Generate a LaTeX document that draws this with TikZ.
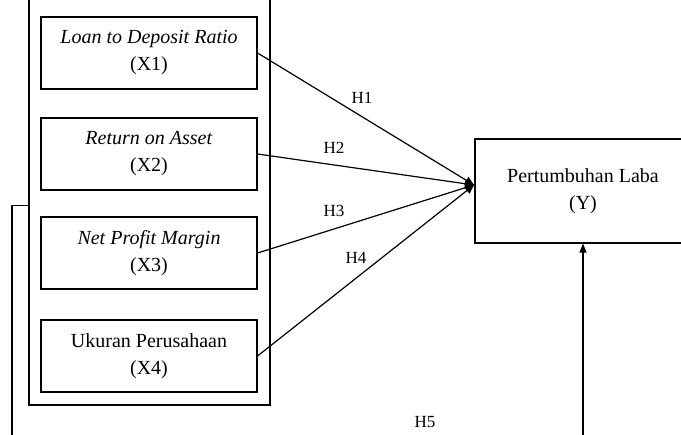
\documentclass[tikz,border=0pt]{standalone}
\usepackage{fontspec}
\setmainfont{Liberation Serif}
\usetikzlibrary{arrows.meta}
\begin{document}
\begin{tikzpicture}[x=1pt,y=-1pt,
    varbox/.style={draw, line width=1.1pt, minimum width=216pt, minimum height=72pt,
        align=center, inner sep=2pt, font=\fontsize{20}{27}\selectfont},
    hlabel/.style={font=\fontsize{17}{19}\selectfont},
    link/.style={line width=1.2pt, -{Triangle[length=9pt,width=8pt]}}]

    % Bidang gambar (681x435)
    \clip (0,0) rectangle (681,435);

    % Kotak luar untuk variabel independen
    \node[draw, line width=1.1pt, minimum width=241pt, minimum height=425pt] (panel) at (149.5,192.5) {};

    % Variabel independen
    \node[varbox] (x1) at (149,53)  {\textit{Loan to Deposit Ratio}\\(X1)};
    \node[varbox] (x2) at (149,154) {\textit{Return on Asset}\\(X2)};
    \node[varbox] (x3) at (149,253) {\textit{Net Profit Margin}\\(X3)};
    \node[varbox] (x4) at (149,356) {Ukuran Perusahaan\\(X4)};

    % Variabel dependen
    \node[varbox, minimum width=216pt, minimum height=104pt] (y) at (583,191) {Pertumbuhan Laba\\(Y)};

    % Titik temu panah
    \coordinate (tip) at (474,185);

    % Hipotesis H1 - H4
    \foreach \i/\lx/\ly in {1/362/98, 2/334/148, 3/334/211, 4/356/258} {
        \draw[link] (x\i.east) -- (tip);
        \node[hlabel] (h\i) at (\lx,\ly) {H\i};
    }

    % Hipotesis H5
    \coordinate (brk) at (12,440);
    \coordinate (up) at (583,440);
    \draw[line width=1.1pt] (brk) |- ([yshift=200pt]panel.south west);
    \draw[line width=1.2pt, -{Triangle[length=9pt,width=7pt]}] (up) -- (y.south);
    \node[hlabel] (h5) at (425,422) {H5};
\end{tikzpicture}
\end{document}
